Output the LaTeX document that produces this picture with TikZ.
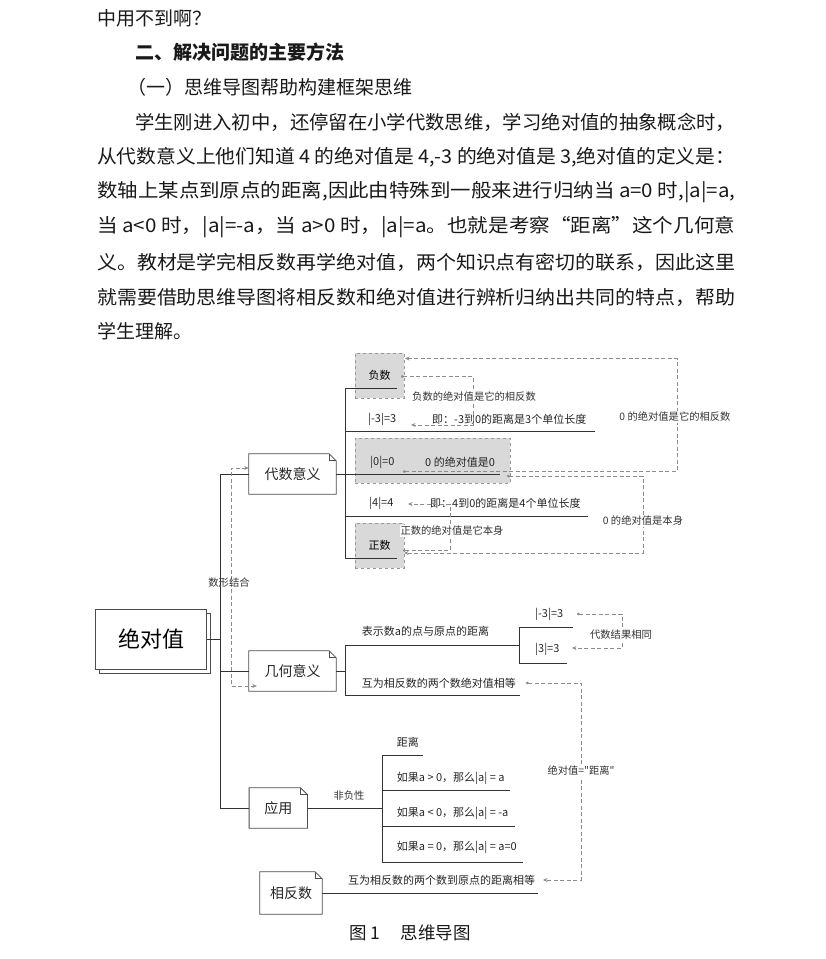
\documentclass[tikz,border=0pt]{standalone}
\usepackage{fontspec}
\usepackage{graphicx}
\setmainfont{Noto Sans CJK SC}
\newfontfamily\brut{Noto Sans CJK SC}
\usetikzlibrary{arrows.meta}

%Coin plié des sujets
\newcommand{\coincorne}[1]{%
  \draw[cadre] (#1.south west) -- (#1.north west) -- ([xshift=-7pt]#1.north east)
    -- ([yshift=-7pt]#1.north east) -- (#1.south east) -- cycle;
  \draw[cadre] ([xshift=-7pt]#1.north east) |- ([yshift=-7pt]#1.north east);}

\tikzset{
  ligne/.style={anchor=west,font=\fontsize{19}{19}\selectfont,text=black!90},
  sujet/.style={font=\fontsize{14}{14}\selectfont,text=black!85,minimum height=40pt},
  feuille/.style={anchor=west,font=\fontsize{11}{11}\selectfont,text=black!85},
  etiquette/.style={font=\fontsize{10.3}{10.3}\selectfont,text=black!80,fill=white,inner sep=1pt},
  grise/.style={draw=black!40,dashed,fill=black!15,line width=0.7pt,font=\fontsize{11}{11}\selectfont},
  cadre/.style={draw=black!70,line width=0.8pt},
  branche/.style={draw=black!80,line width=0.9pt},
  relation/.style={draw=black!45,line width=0.8pt,dash pattern=on 4pt off 2.5pt,
    {Circle[length=2.6pt]}-{Stealth[length=4.5pt,width=4pt]}},
}

\begin{document}
\begin{tikzpicture}[x=1pt,y=-1pt,inner sep=0pt]
\useasboundingbox (0,0) rectangle (826,959);
%Texte
\node[ligne] (T1) at (97,18) {中用不到啊？};
\node[ligne,font=\fontsize{19}{19}\selectfont\bfseries] (T2) at (135,52) {二、解决问题的主要方法};
\node[ligne] (T3) at (127,87) {（一）思维导图帮助构建框架思维};
\node[ligne] (T4) at (135,122) {\resizebox{600pt}{\height}{学生刚进入初中，还停留在小学代数思维，学习绝对值的抽象概念时，}};
\node[ligne] (T5) at (97,157) {\resizebox{638pt}{\height}{从代数意义上他们知道 4 的绝对值是 4,-3 的绝对值是 3,绝对值的定义是：}};
\node[ligne] (T6) at (97,192) {\resizebox{638pt}{\height}{数轴上某点到原点的距离,因此由特殊到一般来进行归纳当 a=0 时,|a|=a,}};
\node[ligne] (T7) at (97,227) {\resizebox{638pt}{\height}{当 a<0 时，|a|=-a，当 a>0 时，|a|=a。也就是考察“距离”这个几何意}};
\node[ligne] (T8) at (97,262) {\resizebox{638pt}{\height}{义。教材是学完相反数再学绝对值，两个知识点有密切的联系，因此这里}};
\node[ligne] (T9) at (97,297) {\resizebox{638pt}{\height}{就需要借助思维导图将相反数和绝对值进行辨析归纳出共同的特点，帮助}};
\node[ligne] (T10) at (97,331) {学生理解。};

%Noeuds principaux
\node[cadre,fill=white,minimum width=111pt,minimum height=60pt] (ABSo) at (155,643) {};
\node[cadre,fill=white,minimum width=111pt,minimum height=60pt,font=\fontsize{22}{22}\selectfont] (ABS) at (151,639) {绝对值};
\node[sujet,minimum width=87pt] (DS) at (292.5,474) {代数意义};
\node[sujet,minimum width=87pt] (JH) at (292.5,671) {几何意义};
\node[sujet,minimum width=58pt] (YY) at (278.3,808) {应用};
\node[sujet,minimum width=62pt,minimum height=42pt] (XF) at (291,893) {相反数};
\coincorne{DS}
\coincorne{JH}
\coincorne{YY}
\coincorne{XF}

%Tronc
\coordinate (t1) at (220,474);
\coordinate (t2) at (220,671);
\coordinate (t3) at (220,808);
\draw[branche] (ABS.east) -- (ABS.east -| t1);
\draw[branche] (t1) -- (t3);
\draw[branche] (t1) -- (DS.west);
\draw[branche] (t2) -- (JH.west);
\draw[branche] (t3) -- (YY.west);
\draw[relation,{Stealth[length=4.5pt,width=4pt]}-{Stealth[length=4.5pt,width=4pt]}]
  ([yshift=6pt]DS.west) -| (231,686) -- ([xshift=8pt,yshift=-15pt]JH.west);
\node[etiquette,fill=none] (E0) at (229,583) {数形结合};

%Algebre
\node[grise,minimum width=49pt,minimum height=45pt] (FS) at (379.5,375.5) {负数};
\node[grise,minimum width=155pt,minimum height=45pt] (Z0) at (432.5,460.5) {};
\node[grise,minimum width=49pt,minimum height=45pt] (ZS) at (379.5,545.5) {正数};
\coordinate (FSl) at (345,388); \coordinate (FSr) at (397,388);
\coordinate (M3l) at (345,431); \coordinate (M3r) at (595,431);
\coordinate (P4l) at (345,516); \coordinate (P4r) at (588,516);
\coordinate (ZSl) at (345,558); \coordinate (ZSr) at (397,558);
\coordinate (Z0r) at (500,474);
\draw[branche] (DS.east) -- (Z0r);
\draw[branche] (FSl) -- (ZSl);
\draw[branche] (FSl) -- (FSr);
\draw[branche] (M3l) -- (M3r);
\draw[branche] (P4l) -- (P4r);
\draw[branche] (ZSl) -- (ZSr);
\node[feuille] (M3a) at (368,419) {|-3|=3};
\node[feuille] (M3b) at (432,419) {即：-3到0的距离是3个单位长度};
\node[feuille] (Z0a) at (370,462) {|0|=0};
\node[feuille] (Z0b) at (425,462) {0 的绝对值是0};
\node[feuille] (P4a) at (369,503) {|4|=4};
\node[feuille] (P4b) at (430,503) {即：4到0的距离是4个单位长度};
\draw[relation] (401,376.5) -- (473,376.5) -- (473,425) -- (411,425);
\draw[relation] (403,471.5) -- (677,471.5) -- (677,358.5) -- (405,358.5);
\draw[relation] (507,476) -- (643,476) -- (643,553) -- (404,553);
\draw[relation] (403,550.5) -- (450,550.5) -- (450,504) -- (408,504);
\node[etiquette] (E1) at (474,397) {负数的绝对值是它的相反数};
\node[etiquette] (E2) at (675,417) {0 的绝对值是它的相反数};
\node[etiquette] (E3) at (643,521) {0 的绝对值是本身};
\node[etiquette] (E4) at (452,531) {正数的绝对值是它本身};

%Geometrie
\coordinate (Gb) at (345,671);
\coordinate (G1l) at (345,645); \coordinate (G1r) at (519,645);
\coordinate (G2l) at (345,695); \coordinate (G2r) at (520,695);
\coordinate (Ha) at (519,627); \coordinate (Har) at (573,627);
\coordinate (Hb) at (519,663); \coordinate (Hbr) at (567,663);
\draw[branche] (JH.east) -- (Gb);
\draw[branche] (G1l) -- (G2l);
\draw[branche] (G1l) -- (G1r);
\draw[branche] (G2l) -- (G2r);
\draw[branche] (Ha) -- (Hb);
\draw[branche] (Ha) -- (Har);
\draw[branche] (Hb) -- (Hbr);
\node[feuille] (G1) at (361.7,631) {表示数a的点与原点的距离};
\node[feuille] (G2) at (361.7,683) {互为相反数的两个数绝对值相等};
\node[feuille] (H1) at (535,614) {|-3|=3};
\node[feuille] (H2) at (535,649) {|3|=3};
\draw[relation] (577,614) -- (622,614) -- (622,648) -- (572,648);
\node[etiquette] (E5) at (621,635) {代数结果相同};
\draw[relation] (526,683) -- (581,683) -- (581,880) -- (543,880);
\node[etiquette,font=\fontsize{10.3}{10.3}\brut] (E6) at (581,771) {绝对值="距离"};

%Application
\coordinate (Yb) at (382,808);
\coordinate (Y1l) at (382,755); \coordinate (Y1r) at (423,755);
\coordinate (Y2l) at (382,790); \coordinate (Y2r) at (510,790);
\coordinate (Y3l) at (382,826); \coordinate (Y3r) at (515,826);
\coordinate (Y4l) at (382,862); \coordinate (Y4r) at (523,862);
\draw[branche] (YY.east) -- (Yb);
\draw[branche] (Y1l) -- (Y4l);
\draw[branche] (Y1l) -- (Y1r);
\draw[branche] (Y2l) -- (Y2r);
\draw[branche] (Y3l) -- (Y3r);
\draw[branche] (Y4l) -- (Y4r);
\node[etiquette,fill=none] (NF) at (349,796) {非负性};
\node[feuille] (Y1) at (396.7,742.7) {距离};
\node[feuille] (Y2) at (396.7,778.3) {如果a > 0，那么|a| = a};
\node[feuille] (Y3) at (396.7,813.3) {如果a < 0，那么|a| = -a};
\node[feuille] (Y4) at (396.7,847.7) {如果a = 0，那么|a| = a=0};

%Opposes
\coordinate (Xr) at (538,893);
\draw[branche] (XF.east) -- (Xr);
\node[feuille] (X1) at (348,880) {互为相反数的两个数到原点的距离相等};

%Legende
\node[font=\fontsize{17.5}{17.5}\selectfont,text=black!90] (CAP) at (410,933) {图 1\hspace{20pt}思维导图};
\end{tikzpicture}
\end{document}
